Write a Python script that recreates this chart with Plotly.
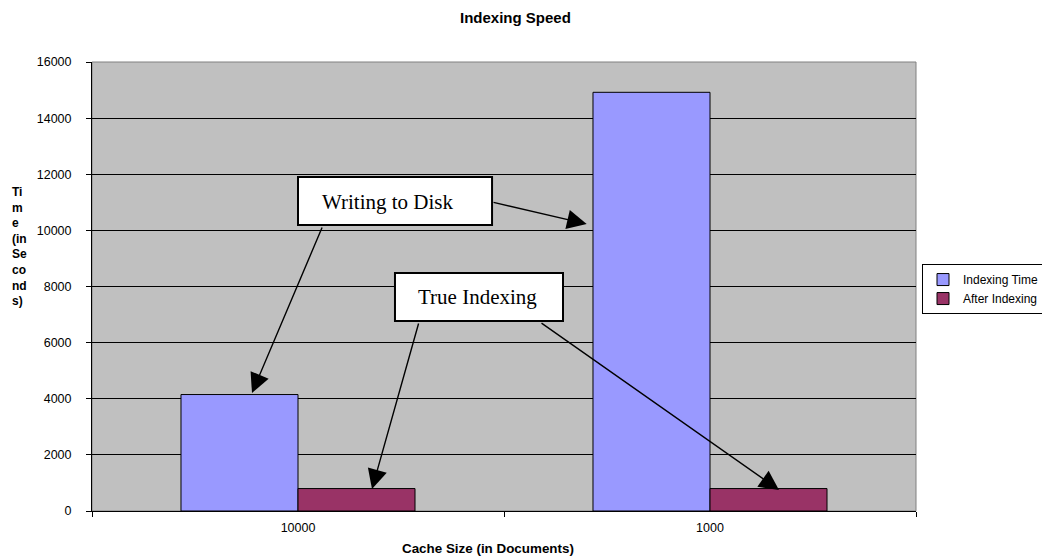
import plotly.graph_objects as go

categories = ["10000", "1000"]
indexing_time = [4150, 14920]
after_indexing = [800, 800]
series_names = ["Indexing Time", "After Indexing"]
y_ticks = [0, 2000, 4000, 6000, 8000, 10000, 12000, 14000, 16000]
y_tick_labels = ["0", "2000", "4000", "6000", "8000", "10000", "12000", "14000", "16000"]

FONT = "Arial, Liberation Sans, sans-serif"
SERIF = "Times New Roman, Liberation Serif, serif"

# page body has an 8px default margin; compensate so the chart lands where the original does
OFF = 8
W, H = 1050 - OFF, 558 - OFF

fig = go.Figure()
fig.add_trace(go.Bar(x=categories, y=indexing_time, name=series_names[0],
                     marker=dict(color="#9999FF", line=dict(color="#000000", width=1))))
fig.add_trace(go.Bar(x=categories, y=after_indexing, name=series_names[1],
                     marker=dict(color="#993366", line=dict(color="#000000", width=1))))

# plot frame (gray top/right border)
fig.add_shape(type="rect", xref="paper", yref="paper", x0=0, x1=1, y0=0, y1=1,
              line=dict(color="#808080", width=1), layer="below")

# callout boxes: text, x0, x1, y0, y1, text_x, text_y
boxes = [
    ("Writing to Disk", 0.0, 0.471, 10192, 11902, 0.2172, 11011),
    ("True Indexing", 0.2354, 0.6432, 6771, 8481, 0.4345, 7626),
]
for text, x0, x1, y0, y1, tx, ty in boxes:
    fig.add_shape(type="rect", xref="x", yref="y", x0=x0, x1=x1, y0=y0, y1=y1,
                  fillcolor="white", line=dict(color="black", width=2), layer="above")
    fig.add_annotation(xref="x", yref="y", x=tx, y=ty,
                       text=text, showarrow=False,
                       font=dict(family=SERIF, size=21, color="black"))

# arrows: (tail_x, tail_y, tip_x, tip_y)
arrows = [
    (0.471, 11011, 0.7007, 10227),
    (0.060, 10156, -0.1117, 4205),
    (0.2937, 6735, 0.1796, 784),
    (0.5874, 6735, 1.1675, 748),
]
for ax_, ay_, x_, y_ in arrows:
    fig.add_annotation(xref="x", yref="y", axref="x", ayref="y",
                       x=x_, y=y_, ax=ax_, ay=ay_, text="", showarrow=True,
                       arrowhead=2, arrowsize=2.8, arrowwidth=1.4, arrowcolor="black")

# y-axis title, wrapped like the original
fig.add_annotation(xref="paper", yref="paper", x=-0.0995, y=(511 - 246) / 449,
                   xanchor="left", yanchor="middle", align="left", showarrow=False,
                   text="<b>Ti<br>m<br>e<br>(in<br>Se<br>co<br>nd<br>s)</b>",
                   font=dict(family=FONT, size=12, color="black"))
# x-axis title
fig.add_annotation(xref="paper", yref="paper", x=(488 - 92) / 824, y=-(548 - 511) / 449,
                   xanchor="center", yanchor="middle", showarrow=False,
                   text="<b>Cache Size (in Documents)</b>",
                   font=dict(family=FONT, size=13.4, color="black"))

# chart title as a paper-anchored annotation placed just above the plot area
fig.add_annotation(xref="paper", yref="paper", x=(515 - 92) / 824, y=1 + (62 - 17) / 449,
                   xanchor="center", yanchor="middle", showarrow=False,
                   text="<b>Indexing Speed</b>",
                   font=dict(family=FONT, size=15, color="black"))

fig.update_layout(
    width=W, height=H,
    margin=dict(l=92 - OFF, r=134, t=62 - OFF, b=47, autoexpand=False),
    paper_bgcolor="white", plot_bgcolor="#C0C0C0",
    barmode="group", bargap=0.432, bargroupgap=0,
    font=dict(family=FONT, size=12, color="black"),
    legend=dict(x=(922 - 92) / 824, y=0.55, xanchor="left", yanchor="top",
                bordercolor="black", borderwidth=1, bgcolor="white",
                font=dict(family=FONT, size=12, color="black"),
                itemwidth=30, tracegroupgap=0),
    showlegend=True,
)
fig.update_xaxes(type="category", showgrid=False, showline=True, linecolor="black", linewidth=1,
                 ticks="outside", tickson="boundaries", ticklen=5, tickcolor="black",
                 ticklabelstandoff=5,
                 tickfont=dict(family=FONT, size=12.5, color="black"))
fig.update_yaxes(range=[0, 16000], tickvals=y_ticks, ticktext=y_tick_labels,
                 showgrid=True, gridcolor="black", gridwidth=1,
                 showline=True, linecolor="black", linewidth=1, zeroline=False,
                 ticks="outside", ticklen=5, tickcolor="black",
                 ticklabelstandoff=12,
                 tickfont=dict(family=FONT, size=12.5, color="black"))

fig.write_html("out.html")
